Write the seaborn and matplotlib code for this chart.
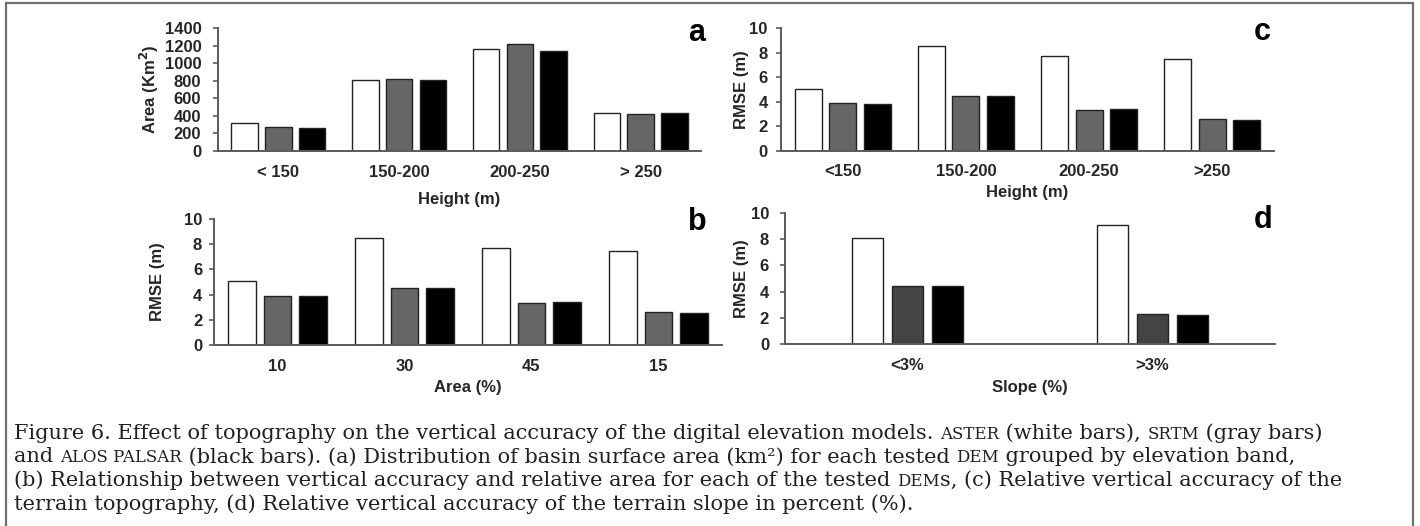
import numpy as np
import pandas as pd
import matplotlib
matplotlib.use("Agg")
import matplotlib.pyplot as plt
import seaborn as sns
from matplotlib.lines import Line2D

# ---------------- data ----------------
dems = ["ASTER", "SRTM", "ALOS PALSAR"]

height_bands_a = ["< 150", "150-200", "200-250", "> 250"]
area_aster = [315, 805, 1165, 430]
area_srtm = [273, 815, 1220, 418]
area_alos = [266, 810, 1143, 432]

height_bands_c = ["<150", "150-200", "200-250", ">250"]
rmse_aster = [5.05, 8.5, 7.7, 7.47]
rmse_srtm = [3.9, 4.5, 3.33, 2.6]
rmse_alos = [3.85, 4.5, 3.4, 2.55]

area_pct = ["10", "30", "45", "15"]

slope_classes = ["<3%", ">3%"]
slope_aster = [8.1, 9.1]
slope_srtm = [4.45, 2.27]
slope_alos = [4.4, 2.25]

caption_lines = [
    [("Figure 6. Effect of topography on the vertical accuracy of the digital elevation models. ", False),
     ("ASTER", True), (" (white bars), ", False), ("SRTM", True), (" (gray bars)", False)],
    [("and ", False), ("ALOS PALSAR", True),
     (" (black bars). (a) Distribution of basin surface area (km\u00b2) for each tested ", False),
     ("DEM", True), (" grouped by elevation band,", False)],
    [("(b) Relationship between vertical accuracy and relative area for each of the tested ", False),
     ("DEM", True), ("s, (c) Relative vertical accuracy of the", False)],
    [("terrain topography, (d) Relative vertical accuracy of the terrain slope in percent (%).", False)],
]

# ---------------- style ----------------
sns.set_theme(style="white")
plt.rcParams["font.family"] = ["Liberation Sans", "DejaVu Sans"]
plt.rcParams["font.weight"] = "bold"

W, H = 1420, 526
fig = plt.figure(figsize=(W / 100, H / 100), dpi=100)
fig.patch.set_facecolor("white")

SPINE = "#5a5a5a"


def px_rect(x0, y_top, x1, y_bot):
    return [x0 / W, 1 - y_bot / H, (x1 - x0) / W, (y_bot - y_top) / H]


def make_df(cats, a, s, l):
    rows = []
    for i, c in enumerate(cats):
        rows.append((c, dems[0], a[i]))
        rows.append((c, dems[1], s[i]))
        rows.append((c, dems[2], l[i]))
    return pd.DataFrame(rows, columns=["cat", "dem", "val"])


def panel(rect, cats, a, s, l, ylim, yticks, ylabel, ylabel_x, xlabel, xlabel_y,
          gray, width, gap, ypad, xpad):
    ax = fig.add_axes(rect)
    df = make_df(cats, a, s, l)
    sns.barplot(data=df, x="cat", y="val", hue="dem", hue_order=dems,
                palette=["white", gray, "black"], width=width, gap=gap,
                edgecolor="#222222", linewidth=1.0, legend=False, ax=ax,
                errorbar=None)
    ax.set_ylim(*ylim)
    ax.set_yticks(yticks)
    ax.set_xlim(-0.5, len(cats) - 0.5)
    for sp in ["top", "right"]:
        ax.spines[sp].set_visible(False)
    for sp in ["left", "bottom"]:
        ax.spines[sp].set_color(SPINE)
        ax.spines[sp].set_linewidth(1.4)
    ax.tick_params(axis="y", direction="out", length=3.5, width=1.2, color=SPINE,
                   labelsize=12, pad=ypad, left=True)
    ax.tick_params(axis="x", length=0, labelsize=12, pad=xpad)
    for t in ax.get_xticklabels() + ax.get_yticklabels():
        t.set_fontweight("bold")
    ax.set_ylabel(ylabel, fontsize=12, fontweight="bold")
    ax.yaxis.set_label_coords(ylabel_x, 0.5)
    ax.set_xlabel(xlabel, fontsize=12, fontweight="bold", va="top")
    ax.xaxis.set_label_coords(0.5, xlabel_y)
    ax.set_facecolor("none")
    ax.grid(False)
    return ax


# panel a
panel(px_rect(218, 28, 701, 151), height_bands_a, area_aster, area_srtm, area_alos,
      (0, 1400), np.arange(0, 1401, 200), "Area (Km$^{\\mathbf{2}}$)", -0.118,
      "Height (m)", -0.333, "#666666", 0.84, 0.22, 8.5, 10)
# panel c
panel(px_rect(781, 28, 1274, 151), height_bands_c, rmse_aster, rmse_srtm, rmse_alos,
      (0, 10), np.arange(0, 11, 2), "RMSE (m)", -0.065,
      "Height (m)", -0.276, "#666666", 0.84, 0.22, 6, 9.6)
# panel b
panel(px_rect(214, 219, 722, 345), area_pct, rmse_aster, rmse_srtm, rmse_alos,
      (0, 10), np.arange(0, 11, 2), "RMSE (m)", -0.096,
      "Area (%)", -0.278, "#666666", 0.84, 0.22, 5, 10)
# panel d
panel(px_rect(785, 213, 1275, 344), slope_classes, slope_aster, slope_srtm, slope_alos,
      (0, 10), np.arange(0, 11, 2), "RMSE (m)", -0.073,
      "Slope (%)", -0.275, "#444444", 0.49, 0.225, 8, 10)

# panel letters
for letter, (x, y) in {"a": (697, 33), "c": (1262, 32), "b": (697, 222), "d": (1263, 220)}.items():
    fig.text(x / W, 1 - y / H, letter, fontsize=22, fontweight="bold", ha="center",
             va="center", color="black")

# frame
BORDER = "#6e6e6e"
fig.add_artist(Line2D([6 / W, 6 / W], [0, 1 - 3 / H], color=BORDER, lw=1.6, transform=fig.transFigure))
fig.add_artist(Line2D([6 / W, 1413 / W], [1 - 3 / H, 1 - 3 / H], color=BORDER, lw=1.6, transform=fig.transFigure))
fig.add_artist(Line2D([1413 / W, 1413 / W], [0, 1 - 3 / H], color=BORDER, lw=1.6, transform=fig.transFigure))

# caption
renderer = fig.canvas.get_renderer()
CAP_SIZE = 15
baselines = [439, 462.5, 486, 509.5]
for segs, yb in zip(caption_lines, baselines):
    x = 14
    for txt, sc in segs:
        t = fig.text(x / W, 1 - yb / H, txt, fontsize=CAP_SIZE * (0.8 if sc else 1.0),
                     family="DejaVu Serif", fontweight="normal", ha="left",
                     va="baseline", color="#231f20")
        bb = t.get_window_extent(renderer=renderer)
        x += bb.width

fig.savefig("out.png", dpi=100, facecolor="white")
